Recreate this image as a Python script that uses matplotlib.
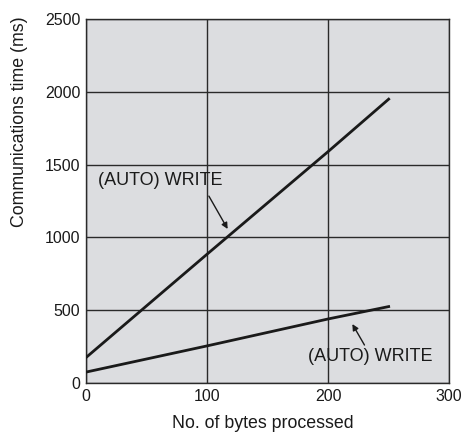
import matplotlib
matplotlib.use('Agg')
import matplotlib.pyplot as plt

# data
bytes_write = [0, 100, 200, 250]
time_write = [175, 885, 1590, 1950]

bytes_auto = [0, 100, 200, 250]
time_auto = [75, 255, 440, 525]

x_ticks = [0, 100, 200, 300]
y_ticks = [0, 500, 1000, 1500, 2000, 2500]

plt.rcParams['font.family'] = ['Liberation Sans', 'DejaVu Sans']
ink = '#1a1a1a'

fig = plt.figure(figsize=(4.65, 4.34), dpi=100)
ax = fig.add_axes([0.185, 0.1175, 0.781, 0.8385])
ax.set_facecolor('#dcdde0')

ax.plot(bytes_write, time_write, color=ink, lw=2.0, zorder=3)
ax.plot(bytes_auto, time_auto, color=ink, lw=2.0, zorder=3)

ax.set_xlim(0, 300)
ax.set_ylim(0, 2500)
ax.set_xticks(x_ticks)
ax.set_yticks(y_ticks)
ax.grid(True, color='#2a2a2a', lw=1.0)
ax.set_axisbelow(True)
for s in ax.spines.values():
    s.set_color('#2a2a2a')
    s.set_linewidth(1.0)
ax.tick_params(length=0, labelsize=11.5, pad=4, colors=ink)

# axis labels placed like the reference (y label sits high, not centred)
fig.text(263 / 465, 1 - 424 / 434, 'No. of bytes processed', fontsize=12.8,
         ha='center', va='center', color=ink)
fig.text(20 / 465, 1 - 122 / 434, 'Communications time (ms)', fontsize=12.8,
         rotation=90, ha='center', va='center', color=ink)

arrow = dict(arrowstyle='-|>', color=ink, lw=1.0, mutation_scale=9,
             shrinkA=0, shrinkB=0)
ax.annotate('', xy=(117, 1058), xytext=(101.5, 1284), arrowprops=arrow)
ax.text(10, 1394, '(AUTO) WRITE', fontsize=13, va='center', ha='left', color=ink)

ax.annotate('', xy=(220, 405), xytext=(230, 261), arrowprops=arrow)
ax.text(183.5, 179, '(AUTO) WRITE', fontsize=13, va='center', ha='left', color=ink)

fig.savefig('out.png', dpi=100)
